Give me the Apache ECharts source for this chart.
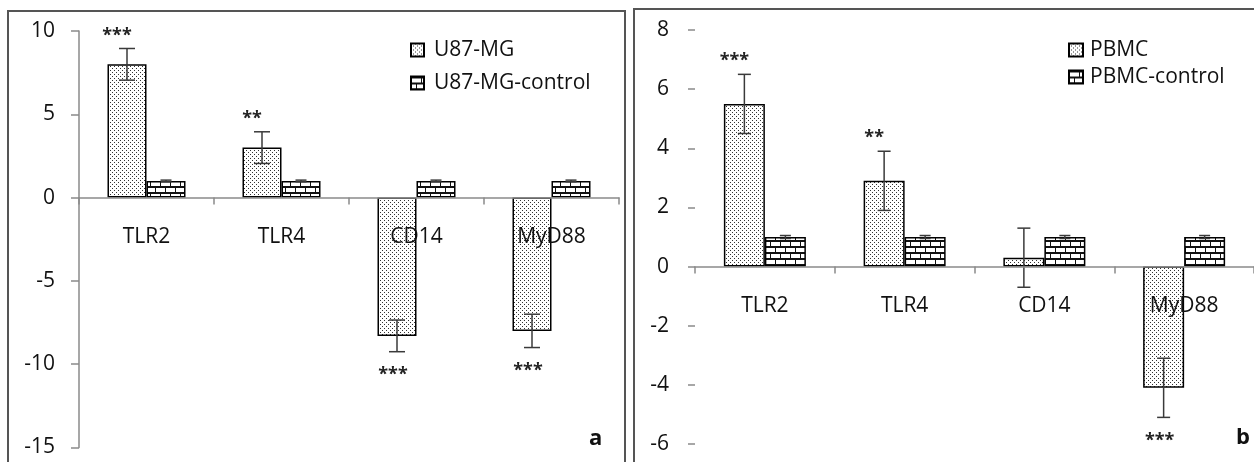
<!DOCTYPE html>
<html>
<head>
<meta charset="utf-8">
<script src="https://cdn.jsdelivr.net/npm/echarts@6/dist/echarts.min.js"></script>
<style>
html,body{margin:0;padding:0;background:#fff;}
#c{width:1254px;height:462px;}
</style>
</head>
<body>
<div id="c"></div>
<script>
// ---------- data ----------
const categories = ['TLR2', 'TLR4', 'CD14', 'MyD88'];

const u87Name = 'U87-MG';
const u87CtrlName = 'U87-MG-control';
const u87 = [8.0, 3.0, -8.3, -8.0];
const u87Err = [0.95, 0.95, 0.95, 1.0];
const u87Ctrl = [1, 1, 1, 1];
const u87CtrlErr = [0.05, 0.05, 0.05, 0.05];
const u87Sig = ['***', '**', '***', '***'];

const pbmcName = 'PBMC';
const pbmcCtrlName = 'PBMC-control';
const pbmc = [5.5, 2.9, 0.3, -4.1];
const pbmcErr = [1.0, 1.0, 1.0, 1.0];
const pbmcCtrl = [1, 1, 1, 1];
const pbmcCtrlErr = [0.05, 0.05, 0.05, 0.05];
const pbmcSig = ['***', '**', '', '***'];

const leftAxis = { min: -15, max: 10, interval: 5 };
const rightAxis = { min: -6, max: 8, interval: 2 };
const panelLetters = ['a', 'b'];

// ---------- patterns ----------
function makeCanvas(w, h, draw) {
  const cv = document.createElement('canvas');
  cv.width = w; cv.height = h;
  const ctx = cv.getContext('2d');
  ctx.fillStyle = '#fff';
  ctx.fillRect(0, 0, w, h);
  draw(ctx);
  return cv;
}
const dotCanvas = makeCanvas(4, 4, ctx => {
  ctx.fillStyle = '#333';
  ctx.fillRect(0, 0, 1, 1);
  ctx.fillRect(2, 2, 1, 1);
});
const brickCanvas = makeCanvas(10, 12, ctx => {
  ctx.fillStyle = '#111';
  ctx.fillRect(0, 0, 10, 2);
  ctx.fillRect(0, 6, 10, 2);
  ctx.fillRect(0, 0, 1, 6);
  ctx.fillRect(5, 6, 1, 6);
});
const dotFill = { image: dotCanvas, repeat: 'repeat' };
const brickFill = { image: brickCanvas, repeat: 'repeat' };

const FONT = "'Open Sans', sans-serif";
const TXT = '#111';

function errRender(offsetPx, capW) {
  return function (params, api) {
    const i = api.value(0), v = api.value(1), e = api.value(2);
    const top = api.coord([i, v + e]);
    const bot = api.coord([i, v - e]);
    const x = top[0] + offsetPx;
    const st = { stroke: '#3a3a3a', lineWidth: 1.5 };
    return {
      type: 'group',
      children: [
        { type: 'line', shape: { x1: x, y1: top[1], x2: x, y2: bot[1] }, style: st },
        { type: 'line', shape: { x1: x - capW / 2, y1: top[1], x2: x + capW / 2, y2: top[1] }, style: st },
        { type: 'line', shape: { x1: x - capW / 2, y1: bot[1], x2: x + capW / 2, y2: bot[1] }, style: st }
      ]
    };
  };
}
function starRender(sig, offsetPx, gap) {
  return function (params, api) {
    const i = api.value(0), v = api.value(1), e = api.value(2);
    const s = sig[params.dataIndex];
    if (!s) return null;
    const pos = v >= 0;
    const p = api.coord([i, pos ? v + e : v - e]);
    const x = p[0] + offsetPx + (pos ? -10 : -4);
    const y = pos ? p[1] - gap : p[1] + gap;
    return {
      type: 'text',
      style: {
        text: s, x: x, y: y + 5, textAlign: 'center', textVerticalAlign: 'middle',
        font: "bold 18px 'Open Sans', sans-serif", fill: '#222'
      }
    };
  };
}
const tri = (vals, errs) => vals.map((v, i) => [i, v, errs[i]]);

const LBW = 39, RBW = 41;
const grids = [
  { left: 79, top: 31, width: 540, height: 416.5 },
  { left: 695, top: 30, width: 564, height: 414 }
];
// distance of the zero line above the grid bottom (so the axis sits at y = 0)
function zeroOffset(g, ax) {
  return -g.height * (0 - ax.min) / (ax.max - ax.min);
}

function xAxisDef(gi, ax) {
  return {
    type: 'category', gridIndex: gi, data: categories, z: 5,
    position: 'bottom', offset: zeroOffset(grids[gi], ax),
    axisLine: { onZero: false, lineStyle: { color: '#8a8a8a', width: 1.5 } },
    axisTick: { show: true, length: 7, lineStyle: { color: '#8a8a8a', width: 1.5 } },
    axisLabel: { margin: 29, fontSize: 21, fontFamily: FONT, color: TXT },
    splitLine: { show: false }
  };
}

const option = {
  animation: false,
  backgroundColor: '#fff',
  grid: grids,
  legend: [
    {
      data: [u87Name, u87CtrlName], orient: 'vertical', left: 405, top: 34,
      icon: 'rect', itemWidth: 13, itemHeight: 13, itemGap: 11,
      textStyle: { fontSize: 21, fontFamily: FONT, color: TXT, lineHeight: 22, padding: [0, 0, 0, 5] }
    },
    {
      data: [pbmcName, pbmcCtrlName], orient: 'vertical', left: 1063, top: 34,
      icon: 'rect', itemWidth: 14, itemHeight: 13, itemGap: 5,
      textStyle: { fontSize: 21, fontFamily: FONT, color: TXT, lineHeight: 22, padding: [0, 0, 0, 2] }
    }
  ],
  xAxis: [xAxisDef(0, leftAxis), xAxisDef(1, rightAxis)],
  yAxis: [
    {
      type: 'value', gridIndex: 0, min: leftAxis.min, max: leftAxis.max, interval: leftAxis.interval,
      axisLine: { show: true, lineStyle: { color: '#8a8a8a', width: 1.5 } },
      axisTick: { show: true, length: 8, lineStyle: { color: '#8a8a8a', width: 1.5 } },
      axisLabel: { margin: 24, fontSize: 21, fontFamily: FONT, color: TXT },
      splitLine: { show: false }
    },
    {
      type: 'value', gridIndex: 1, min: rightAxis.min, max: rightAxis.max, interval: rightAxis.interval,
      axisLine: { show: false },
      axisTick: { show: true, length: 7, lineStyle: { color: '#8a8a8a', width: 1.5 } },
      axisLabel: { margin: 26, fontSize: 21, fontFamily: FONT, color: TXT },
      splitLine: { show: false }
    }
  ],
  series: [
    {
      name: u87Name, type: 'bar', xAxisIndex: 0, yAxisIndex: 0, data: u87,
      barWidth: LBW, barGap: '0%',
      itemStyle: { color: dotFill, borderColor: '#000', borderWidth: 1.5 }
    },
    {
      name: u87CtrlName, type: 'bar', xAxisIndex: 0, yAxisIndex: 0, data: u87Ctrl,
      barWidth: LBW, barGap: '0%',
      itemStyle: { color: brickFill, borderColor: '#000', borderWidth: 1.5 }
    },
    {
      name: pbmcName, type: 'bar', xAxisIndex: 1, yAxisIndex: 1, data: pbmc,
      barWidth: RBW, barGap: '0%',
      itemStyle: { color: dotFill, borderColor: '#000', borderWidth: 1.5 }
    },
    {
      name: pbmcCtrlName, type: 'bar', xAxisIndex: 1, yAxisIndex: 1, data: pbmcCtrl,
      barWidth: RBW, barGap: '0%',
      itemStyle: { color: brickFill, borderColor: '#000', borderWidth: 1.5 }
    },
    { type: 'custom', xAxisIndex: 0, yAxisIndex: 0, z: 4, data: tri(u87, u87Err), encode: { x: 0, y: 1 }, renderItem: errRender(-LBW / 2, 16) },
    { type: 'custom', xAxisIndex: 0, yAxisIndex: 0, z: 4, data: tri(u87Ctrl, u87CtrlErr), encode: { x: 0, y: 1 }, renderItem: errRender(LBW / 2, 11) },
    { type: 'custom', xAxisIndex: 1, yAxisIndex: 1, z: 4, data: tri(pbmc, pbmcErr), encode: { x: 0, y: 1 }, renderItem: errRender(-RBW / 2, 13) },
    { type: 'custom', xAxisIndex: 1, yAxisIndex: 1, z: 4, data: tri(pbmcCtrl, pbmcCtrlErr), encode: { x: 0, y: 1 }, renderItem: errRender(RBW / 2, 11) },
    { type: 'custom', xAxisIndex: 0, yAxisIndex: 0, z: 4, data: tri(u87, u87Err), encode: { x: 0, y: 1 }, renderItem: starRender(u87Sig, -LBW / 2, 18) },
    { type: 'custom', xAxisIndex: 1, yAxisIndex: 1, z: 4, data: tri(pbmc, pbmcErr), encode: { x: 0, y: 1 }, renderItem: starRender(pbmcSig, -RBW / 2, 18) }
  ],
  graphic: [
    { type: 'rect', shape: { x: 8, y: 11, width: 617, height: 470 }, style: { fill: 'none', stroke: '#555', lineWidth: 2 }, silent: true },
    { type: 'rect', shape: { x: 634, y: 9, width: 640, height: 470 }, style: { fill: 'none', stroke: '#555', lineWidth: 2 }, silent: true },
    { type: 'text', left: 589, top: 428, style: { text: panelLetters[0], font: "bold 22px 'Open Sans', sans-serif", fill: '#111' } },
    { type: 'text', left: 1236, top: 427, style: { text: panelLetters[1], font: "bold 22px 'Open Sans', sans-serif", fill: '#111' } }
  ]
};

const chart = echarts.init(document.getElementById('c'), null, { renderer: 'canvas' });
chart.setOption(option);
</script>
</body>
</html>
